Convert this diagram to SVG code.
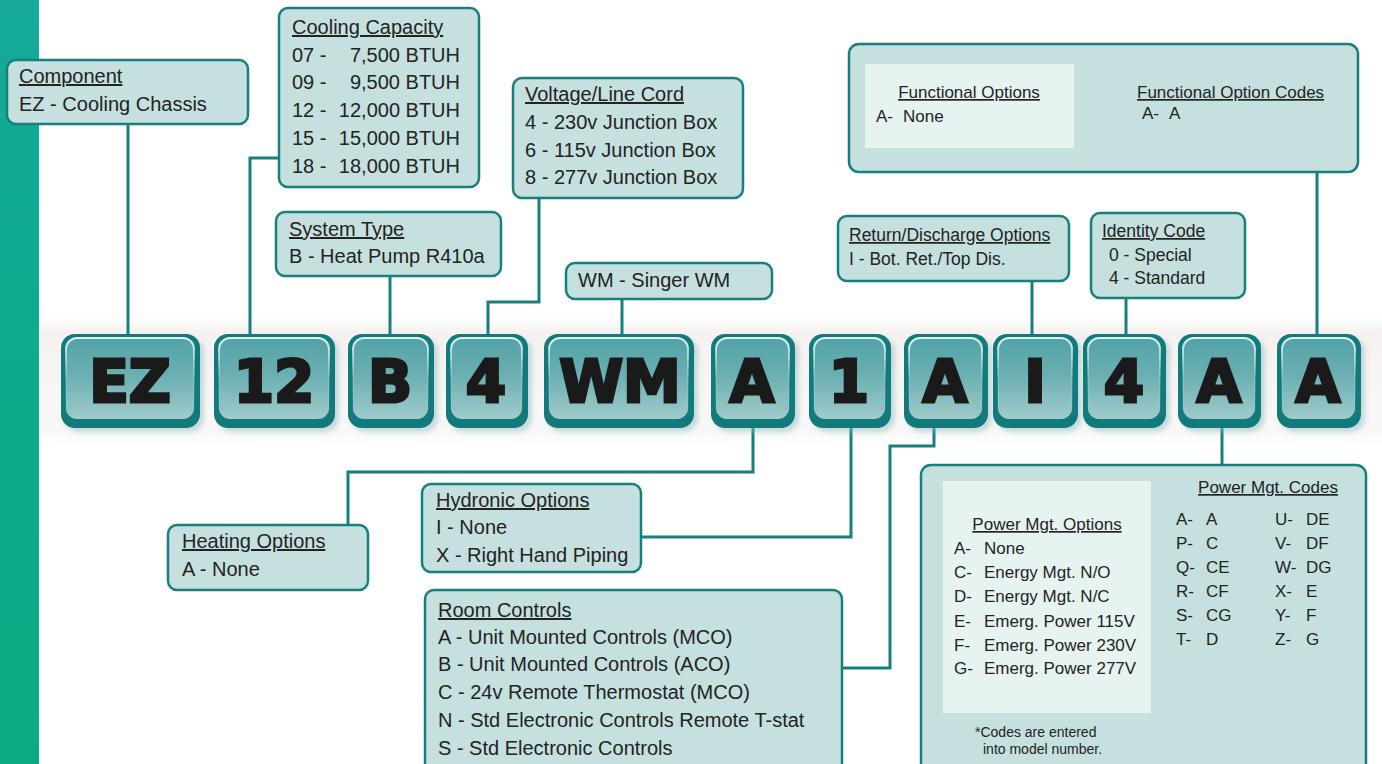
<svg xmlns="http://www.w3.org/2000/svg" width="1382" height="764" viewBox="0 0 1382 764">
<defs>
<linearGradient id="strip" x1="0" y1="0" x2="0" y2="1">
<stop offset="0" stop-color="#16a99a"/>
<stop offset="0.5" stop-color="#0dab8b"/>
<stop offset="1" stop-color="#0aab84"/>
</linearGradient>
<linearGradient id="band" x1="0" y1="0" x2="0" y2="1">
<stop offset="0" stop-color="#f6f2f2" stop-opacity="0"/>
<stop offset="0.12" stop-color="#f6f1f1"/>
<stop offset="0.85" stop-color="#f9f8f8"/>
<stop offset="1" stop-color="#ffffff" stop-opacity="0"/>
</linearGradient>
<linearGradient id="face" x1="0" y1="0" x2="0" y2="1">
<stop offset="0" stop-color="#52a3a6"/>
<stop offset="0.45" stop-color="#6aafb2"/>
<stop offset="1" stop-color="#a0cbcc"/>
</linearGradient>
<linearGradient id="hl" x1="0" y1="0" x2="0" y2="1">
<stop offset="0" stop-color="#e8f7f7" stop-opacity="0.95"/>
<stop offset="0.5" stop-color="#e8f7f7" stop-opacity="0.2"/>
<stop offset="1" stop-color="#e8f7f7" stop-opacity="0"/>
</linearGradient>
<filter id="blur" x="-20%" y="-20%" width="140%" height="140%">
<feGaussianBlur stdDeviation="2.5"/>
</filter>
<style>
.box{fill:#c5e0df;stroke:#17807e;stroke-width:2.5}
.panel{fill:#e6f3f1}
.t{font-family:"Liberation Sans",Arial,sans-serif;font-size:20px;fill:#232323}
.s{font-size:17.5px}
.p{font-size:17px}
.f{font-size:14px}
.u{text-decoration:underline}
.con{fill:none;stroke:#17807e;stroke-width:3}
.rim{fill:#137a7b}
.fc{fill:url(#face);stroke:url(#hl);stroke-width:2}
.sh{fill:#8dbcbe;opacity:0.5;filter:url(#blur)}
.code{font-family:"DejaVu Sans","Liberation Sans",sans-serif;font-weight:bold;font-size:58px;fill:#1b1a1a;stroke:#1b1a1a;stroke-width:3;text-anchor:middle}
</style>
</defs>
<rect x="0" y="0" width="1382" height="764" fill="#ffffff"/>
<rect x="0" y="0" width="39" height="764" fill="url(#strip)"/>
<rect x="40" y="316" width="1342" height="136" fill="url(#band)"/>

<g id="connectors">
<path class="con" d="M128,124 V334"/>
<path class="con" d="M279,158 H250 V334"/>
<path class="con" d="M390,276 V334"/>
<path class="con" d="M539,198 V302 H488 V334"/>
<path class="con" d="M622,299 V334"/>
<path class="con" d="M1032,281 V334"/>
<path class="con" d="M1126,298 V334"/>
<path class="con" d="M1317,172 V334"/>
<path class="con" d="M348,525 V472 H753 V428"/>
<path class="con" d="M641,537 H851 V428"/>
<path class="con" d="M842,668 H890 V446 H934 V428"/>
<path class="con" d="M1222,428 V465"/>
</g>

<g id="code-EZ"><rect class="sh" x="65" y="338" width="139" height="94" rx="14"/><rect class="rim" x="61" y="334" width="139" height="94" rx="14"/><rect class="fc" x="66" y="338" width="128" height="81" rx="11"/><text class="code" x="130" y="402">EZ</text></g>
<g id="code-12"><rect class="sh" x="218" y="338" width="121" height="94" rx="14"/><rect class="rim" x="214" y="334" width="121" height="94" rx="14"/><rect class="fc" x="219" y="338" width="110" height="81" rx="11"/><text class="code" x="274" y="402">12</text></g>
<g id="code-B"><rect class="sh" x="352" y="338" width="86" height="94" rx="14"/><rect class="rim" x="348" y="334" width="86" height="94" rx="14"/><rect class="fc" x="353" y="338" width="75" height="81" rx="11"/><text class="code" x="390" y="402">B</text></g>
<g id="code-4a"><rect class="sh" x="450" y="338" width="82" height="94" rx="14"/><rect class="rim" x="446" y="334" width="82" height="94" rx="14"/><rect class="fc" x="451" y="338" width="71" height="81" rx="11"/><text class="code" x="486" y="402">4</text></g>
<g id="code-WM"><rect class="sh" x="548" y="338" width="150" height="94" rx="14"/><rect class="rim" x="544" y="334" width="150" height="94" rx="14"/><rect class="fc" x="549" y="338" width="139" height="81" rx="11"/><text class="code" x="620" y="402">WM</text></g>
<g id="code-A1"><rect class="sh" x="715" y="338" width="84" height="94" rx="14"/><rect class="rim" x="711" y="334" width="84" height="94" rx="14"/><rect class="fc" x="716" y="338" width="73" height="81" rx="11"/><text class="code" x="752" y="402">A</text></g>
<g id="code-1"><rect class="sh" x="813" y="338" width="82" height="94" rx="14"/><rect class="rim" x="809" y="334" width="82" height="94" rx="14"/><rect class="fc" x="814" y="338" width="71" height="81" rx="11"/><text class="code" x="849" y="402">1</text></g>
<g id="code-A2"><rect class="sh" x="908" y="338" width="84" height="94" rx="14"/><rect class="rim" x="904" y="334" width="84" height="94" rx="14"/><rect class="fc" x="909" y="338" width="73" height="81" rx="11"/><text class="code" x="945" y="402">A</text></g>
<g id="code-I"><rect class="sh" x="997" y="338" width="85" height="94" rx="14"/><rect class="rim" x="993" y="334" width="85" height="94" rx="14"/><rect class="fc" x="998" y="338" width="74" height="81" rx="11"/><text class="code" x="1035" y="402">I</text></g>
<g id="code-4b"><rect class="sh" x="1087" y="338" width="83" height="94" rx="14"/><rect class="rim" x="1083" y="334" width="83" height="94" rx="14"/><rect class="fc" x="1088" y="338" width="72" height="81" rx="11"/><text class="code" x="1124" y="402">4</text></g>
<g id="code-A3"><rect class="sh" x="1182" y="338" width="83" height="94" rx="14"/><rect class="rim" x="1178" y="334" width="83" height="94" rx="14"/><rect class="fc" x="1183" y="338" width="72" height="81" rx="11"/><text class="code" x="1219" y="402">A</text></g>
<g id="code-A4"><rect class="sh" x="1281" y="338" width="84" height="94" rx="14"/><rect class="rim" x="1277" y="334" width="84" height="94" rx="14"/><rect class="fc" x="1282" y="338" width="73" height="81" rx="11"/><text class="code" x="1318" y="402">A</text></g>

<g id="component">
<rect class="box" x="7" y="60" width="241" height="64" rx="9"/>
<text class="t u" x="19" y="83">Component</text>
<text class="t" x="19" y="111">EZ - Cooling Chassis</text>
</g>

<g id="cooling-capacity">
<rect class="box" x="279" y="8" width="200" height="179" rx="9"/>
<text class="t u" x="292" y="34">Cooling Capacity</text>
<text class="t" x="292" y="62">07 -</text><text class="t" x="460" y="62" text-anchor="end">7,500 BTUH</text>
<text class="t" x="292" y="89">09 -</text><text class="t" x="460" y="89" text-anchor="end">9,500 BTUH</text>
<text class="t" x="292" y="117">12 -</text><text class="t" x="460" y="117" text-anchor="end">12,000 BTUH</text>
<text class="t" x="292" y="145">15 -</text><text class="t" x="460" y="145" text-anchor="end">15,000 BTUH</text>
<text class="t" x="292" y="173">18 -</text><text class="t" x="460" y="173" text-anchor="end">18,000 BTUH</text>
</g>

<g id="system-type">
<rect class="box" x="276" y="212" width="225" height="64" rx="9"/>
<text class="t u" x="289" y="236">System Type</text>
<text class="t" x="289" y="263">B - Heat Pump R410a</text>
</g>

<g id="voltage">
<rect class="box" x="513" y="78" width="230" height="120" rx="9"/>
<text class="t u" x="525" y="101">Voltage/Line Cord</text>
<text class="t" x="525" y="129">4 - 230v Junction Box</text>
<text class="t" x="525" y="157">6 - 115v Junction Box</text>
<text class="t" x="525" y="184">8 - 277v Junction Box</text>
</g>

<g id="wm">
<rect class="box" x="566" y="263" width="206" height="36" rx="9"/>
<text class="t" x="578" y="287">WM - Singer WM</text>
</g>

<g id="return-discharge">
<rect class="box" x="838" y="216" width="231" height="65" rx="9"/>
<text class="t s u" x="849" y="241">Return/Discharge Options</text>
<text class="t s" x="849" y="265">I - Bot. Ret./Top Dis.</text>
</g>

<g id="identity-code">
<rect class="box" x="1091" y="213" width="154" height="85" rx="9"/>
<text class="t s u" x="1102" y="237">Identity Code</text>
<text class="t s" x="1109" y="261">0 - Special</text>
<text class="t s" x="1109" y="284">4 - Standard</text>
</g>

<g id="functional-options">
<rect class="box" x="849" y="44" width="509" height="128" rx="10"/>
<rect class="panel" x="865" y="64" width="209" height="84"/>
<text class="t p u" x="969" y="98" text-anchor="middle">Functional Options</text>
<text class="t p" x="876" y="122">A-</text><text class="t p" x="903" y="122">None</text>
<text class="t p u" x="1137" y="98">Functional Option Codes</text>
<text class="t p" x="1142" y="119">A-</text><text class="t p" x="1169" y="119">A</text>
</g>

<g id="heating-options">
<rect class="box" x="168" y="525" width="200" height="65" rx="9"/>
<text class="t u" x="182" y="548">Heating Options</text>
<text class="t" x="182" y="576">A - None</text>
</g>

<g id="hydronic-options">
<rect class="box" x="422" y="484" width="219" height="88" rx="9"/>
<text class="t u" x="436" y="507">Hydronic Options</text>
<text class="t" x="436" y="534">I - None</text>
<text class="t" x="436" y="562">X - Right Hand Piping</text>
</g>

<g id="room-controls">
<rect class="box" x="425" y="590" width="417" height="190" rx="9"/>
<text class="t u" x="438" y="617">Room Controls</text>
<text class="t" x="438" y="644">A - Unit Mounted Controls (MCO)</text>
<text class="t" x="438" y="671">B - Unit Mounted Controls (ACO)</text>
<text class="t" x="438" y="699">C - 24v Remote Thermostat (MCO)</text>
<text class="t" x="438" y="727">N - Std Electronic Controls Remote T-stat</text>
<text class="t" x="438" y="755">S - Std Electronic Controls</text>
</g>

<g id="power-management">
<rect class="box" x="921" y="465" width="445" height="320" rx="10"/>
<rect class="panel" x="943" y="481" width="208" height="232"/>
<text class="t p u" x="1047" y="530" text-anchor="middle">Power Mgt. Options</text>
<text class="t p" x="954" y="554">A-</text><text class="t p" x="984" y="554">None</text>
<text class="t p" x="954" y="578">C-</text><text class="t p" x="984" y="578">Energy Mgt. N/O</text>
<text class="t p" x="954" y="602">D-</text><text class="t p" x="984" y="602">Energy Mgt. N/C</text>
<text class="t p" x="954" y="627">E-</text><text class="t p" x="984" y="627">Emerg. Power 115V</text>
<text class="t p" x="954" y="651">F-</text><text class="t p" x="984" y="651">Emerg. Power 230V</text>
<text class="t p" x="954" y="674">G-</text><text class="t p" x="984" y="674">Emerg. Power 277V</text>
<text class="t f" x="975" y="737">*Codes are entered</text>
<text class="t f" x="983" y="754">into model number.</text>
<text class="t p u" x="1268" y="493" text-anchor="middle">Power Mgt. Codes</text>
<text class="t p" x="1176" y="525">A-</text><text class="t p" x="1206" y="525">A</text>
<text class="t p" x="1176" y="549">P-</text><text class="t p" x="1206" y="549">C</text>
<text class="t p" x="1176" y="573">Q-</text><text class="t p" x="1206" y="573">CE</text>
<text class="t p" x="1176" y="597">R-</text><text class="t p" x="1206" y="597">CF</text>
<text class="t p" x="1176" y="621">S-</text><text class="t p" x="1206" y="621">CG</text>
<text class="t p" x="1176" y="645">T-</text><text class="t p" x="1206" y="645">D</text>
<text class="t p" x="1275" y="525">U-</text><text class="t p" x="1306" y="525">DE</text>
<text class="t p" x="1275" y="549">V-</text><text class="t p" x="1306" y="549">DF</text>
<text class="t p" x="1275" y="573">W-</text><text class="t p" x="1306" y="573">DG</text>
<text class="t p" x="1275" y="597">X-</text><text class="t p" x="1306" y="597">E</text>
<text class="t p" x="1275" y="621">Y-</text><text class="t p" x="1306" y="621">F</text>
<text class="t p" x="1275" y="645">Z-</text><text class="t p" x="1306" y="645">G</text>
</g>
</svg>
